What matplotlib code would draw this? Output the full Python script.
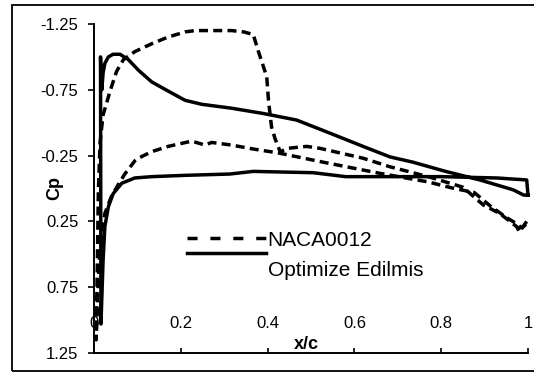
import numpy as np
import matplotlib
matplotlib.use("Agg")
import matplotlib.pyplot as plt
from matplotlib.lines import Line2D
from matplotlib.patches import Rectangle
import matplotlib.transforms as mtransforms

# NACA0012 (dashed) - upper surface, LE -> TE
naca_up_x = [0.005, 0.008, 0.010, 0.014, 0.021, 0.030, 0.037, 0.052, 0.068, 0.094, 0.133,
             0.170, 0.210, 0.233, 0.270, 0.317, 0.345, 0.367, 0.378, 0.398, 0.402, 0.409,
             0.417, 0.429, 0.448, 0.490, 0.521, 0.620, 0.682, 0.770, 0.850, 0.897, 0.935,
             0.974, 0.980, 0.997]
naca_up_cp = [1.15, 0.50, 0.02, -0.35, -0.56, -0.66, -0.74, -0.89, -0.98, -1.04, -1.10,
              -1.15, -1.19, -1.20, -1.20, -1.20, -1.19, -1.17, -1.05, -0.85, -0.67, -0.47,
              -0.38, -0.28, -0.306, -0.32, -0.305, -0.23, -0.165, -0.09, -0.01, 0.125, 0.19,
              0.29, 0.33, 0.25]
# NACA0012 - lower surface, LE -> TE
naca_lo_x = [0.005, 0.008, 0.012, 0.018, 0.025, 0.040, 0.056, 0.071, 0.094, 0.102, 0.133,
             0.171, 0.225, 0.256, 0.271, 0.317, 0.367, 0.425, 0.528, 0.659, 0.770, 0.830,
             0.876, 0.912, 0.950, 0.975, 0.985, 1.0]
naca_lo_cp = [1.15, 0.85, 0.55, 0.35, 0.19, 0.06, -0.03, -0.11, -0.21, -0.23, -0.28,
              -0.32, -0.36, -0.33, -0.35, -0.33, -0.30, -0.27, -0.20, -0.115, -0.05, 0.0,
              0.03, 0.13, 0.22, 0.27, 0.30, 0.26]

# Optimized (solid) - upper surface, LE -> TE
opt_up_x = [0.016, 0.015, 0.018, 0.021, 0.025, 0.033, 0.044, 0.060, 0.079, 0.102, 0.133,
            0.171, 0.210, 0.248, 0.317, 0.390, 0.467, 0.544, 0.620, 0.682, 0.735, 0.810,
            0.889, 0.966, 0.990, 1.0]
opt_up_cp = [1.03, -1.00, -0.75, -0.88, -0.95, -1.00, -1.02, -1.02, -0.98, -0.90, -0.81,
             -0.74, -0.67, -0.64, -0.61, -0.57, -0.52, -0.42, -0.32, -0.24, -0.20, -0.13,
             -0.065, 0.01, 0.05, 0.05]
# Optimized - lower surface, LE -> TE
opt_lo_x = [0.016, 0.021, 0.025, 0.033, 0.044, 0.064, 0.094, 0.133, 0.210, 0.313, 0.367,
            0.505, 0.580, 0.680, 0.800, 0.928, 0.997, 1.0]
opt_lo_cp = [1.03, 0.54, 0.29, 0.14, 0.04, -0.04, -0.08, -0.09, -0.10, -0.11, -0.13,
             -0.12, -0.09, -0.09, -0.09, -0.08, -0.065, 0.05]

x_ticks = [0, 0.2, 0.4, 0.6, 0.8, 1]
x_tick_labels = ["0", "0.2", "0.4", "0.6", "0.8", "1"]
y_ticks = [-1.25, -0.75, -0.25, 0.25, 0.75, 1.25]
y_tick_labels = ["-1.25", "-0.75", "-0.25", "0.25", "0.75", "1.25"]
labels = ["NACA0012", "Optimize Edilmis"]

plt.rcParams['font.family'] = ['Liberation Sans', 'DejaVu Sans']

fig = plt.figure(figsize=(5.34, 3.74), dpi=100)
ax = fig.add_axes([94/534, 1-353/374, (528-94)/534, (353-24)/374])

LW = 2.5
nx = np.concatenate([np.array(naca_up_x)[::-1], naca_lo_x])
ny = np.concatenate([np.array(naca_up_cp)[::-1], naca_lo_cp])
ox = np.concatenate([np.array(opt_up_x)[::-1], opt_lo_x])
oy = np.concatenate([np.array(opt_up_cp)[::-1], opt_lo_cp])

ax.plot(nx, ny, color='black', lw=LW, dashes=(2.6, 1.5), solid_joinstyle='round', clip_on=False)
ax.plot(ox, oy, color='black', lw=LW, solid_joinstyle='round', clip_on=False)

ax.set_xlim(0, 1)
ax.set_ylim(1.25, -1.25)
ax.set_xticks(x_ticks)
ax.set_xticklabels(x_tick_labels)
ax.set_yticks(y_ticks)
ax.set_yticklabels(y_tick_labels)

for s in ['top', 'right']:
    ax.spines[s].set_visible(False)
for s in ['left', 'bottom']:
    ax.spines[s].set_linewidth(1.4)

ax.tick_params(axis='x', direction='in', length=3.6, width=1.2, pad=-26.5, labelsize=12)
ax.tick_params(axis='y', direction='out', length=4.3, width=1.2, pad=7.0, labelsize=12)

ax.set_xlabel("x/c", fontsize=13, fontweight='bold', va='bottom')
ax.xaxis.set_label_coords(0.49, 0.0)
ax.set_ylabel("Cp", fontsize=13, fontweight='bold')
ax.yaxis.set_label_coords(-0.07, 0.5)

h1 = Line2D([], [], color='black', lw=LW, dashes=(2.9, 3.7))
h2 = Line2D([], [], color='black', lw=LW)
leg = ax.legend([h1, h2], labels, loc='upper left', bbox_to_anchor=(0.215, 0.372),
                frameon=False, fontsize=15, handlelength=3.8, handletextpad=0.05,
                borderpad=0, borderaxespad=0, labelspacing=-0.2)
t2 = leg.get_texts()[1]
t2.set_transform(t2.get_transform() +
                 mtransforms.ScaledTranslation(0, -11.0/72, fig.dpi_scale_trans))

fig.patches.append(Rectangle((12/534, 3/374), 1.2, 366/374, transform=fig.transFigure,
                             fill=False, edgecolor='black', lw=1.3))

fig.savefig("out.png", dpi=100)
